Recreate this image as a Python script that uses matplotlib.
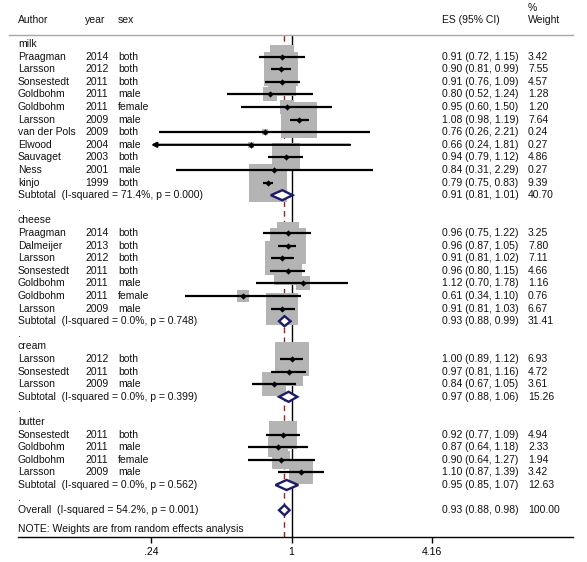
import numpy as np
import matplotlib
matplotlib.use("Agg")
import matplotlib.pyplot as plt
from matplotlib import transforms

plt.rcParams['font.family'] = ['Liberation Sans', 'DejaVu Sans']

# ---------------- data ----------------
groups = ["milk", "cheese", "cream", "butter"]

milk_author = ["Praagman", "Larsson", "Sonsestedt", "Goldbohm", "Goldbohm", "Larsson",
               "van der Pols", "Elwood", "Sauvaget", "Ness", "kinjo"]
milk_year = [2014, 2012, 2011, 2011, 2011, 2009, 2009, 2004, 2003, 2001, 1999]
milk_sex = ["both", "both", "both", "male", "female", "male", "both", "male", "both", "male", "both"]
milk_es = [0.91, 0.90, 0.91, 0.80, 0.95, 1.08, 0.76, 0.66, 0.94, 0.84, 0.79]
milk_lo = [0.72, 0.81, 0.76, 0.52, 0.60, 0.98, 0.26, 0.24, 0.79, 0.31, 0.75]
milk_hi = [1.15, 0.99, 1.09, 1.24, 1.50, 1.19, 2.21, 1.81, 1.12, 2.29, 0.83]
milk_w = [3.42, 7.55, 4.57, 1.28, 1.20, 7.64, 0.24, 0.27, 4.86, 0.27, 9.39]

cheese_author = ["Praagman", "Dalmeijer", "Larsson", "Sonsestedt", "Goldbohm", "Goldbohm", "Larsson"]
cheese_year = [2014, 2013, 2012, 2011, 2011, 2011, 2009]
cheese_sex = ["both", "both", "both", "both", "male", "female", "male"]
cheese_es = [0.96, 0.96, 0.91, 0.96, 1.12, 0.61, 0.91]
cheese_lo = [0.75, 0.87, 0.81, 0.80, 0.70, 0.34, 0.81]
cheese_hi = [1.22, 1.05, 1.02, 1.15, 1.78, 1.10, 1.03]
cheese_w = [3.25, 7.80, 7.11, 4.66, 1.16, 0.76, 6.67]

cream_author = ["Larsson", "Sonsestedt", "Larsson"]
cream_year = [2012, 2011, 2009]
cream_sex = ["both", "both", "male"]
cream_es = [1.00, 0.97, 0.84]
cream_lo = [0.89, 0.81, 0.67]
cream_hi = [1.12, 1.16, 1.05]
cream_w = [6.93, 4.72, 3.61]

butter_author = ["Sonsestedt", "Goldbohm", "Goldbohm", "Larsson"]
butter_year = [2011, 2011, 2011, 2009]
butter_sex = ["both", "male", "female", "male"]
butter_es = [0.92, 0.87, 0.90, 1.10]
butter_lo = [0.77, 0.64, 0.64, 0.87]
butter_hi = [1.09, 1.18, 1.27, 1.39]
butter_w = [4.94, 2.33, 1.94, 3.42]

sub_i2 = [71.4, 0.0, 0.0, 0.0]
sub_p = [0.000, 0.748, 0.399, 0.562]
sub_es = [0.91, 0.93, 0.97, 0.95]
sub_lo = [0.81, 0.88, 0.88, 0.85]
sub_hi = [1.01, 0.99, 1.06, 1.07]
sub_w = [40.70, 31.41, 15.26, 12.63]

overall_i2 = 54.2
overall_p = 0.001
overall_es = 0.93
overall_lo = 0.88
overall_hi = 0.98
overall_w = 100.00

tick_vals = [0.24, 1, 4.16]
tick_labels = [".24", "1", "4.16"]
note = "NOTE: Weights are from random effects analysis"

study_data = {
    "milk": (milk_author, milk_year, milk_sex, milk_es, milk_lo, milk_hi, milk_w),
    "cheese": (cheese_author, cheese_year, cheese_sex, cheese_es, cheese_lo, cheese_hi, cheese_w),
    "cream": (cream_author, cream_year, cream_sex, cream_es, cream_lo, cream_hi, cream_w),
    "butter": (butter_author, butter_year, butter_sex, butter_es, butter_lo, butter_hi, butter_w),
}

# ---------------- layout ----------------
W, H = 587, 562
fig = plt.figure(figsize=(W / 100, H / 100), dpi=100)
ax_left, ax_right, ax_top, ax_bot = 18, 573, 35, 537
ax = fig.add_axes([ax_left / W, 1 - ax_bot / H, (ax_right - ax_left) / W, (ax_bot - ax_top) / H])

px_per_ln = 98.51
x_one = 291.6
ax.set_xscale("log")
ax.set_xlim(np.exp((ax_left - x_one) / px_per_ln), np.exp((ax_right - x_one) / px_per_ln))
row0, rowh = 44.0, 12.6
ax.set_ylim((ax_bot - row0) / rowh, (ax_top - row0) / rowh)

for s in ["top", "right", "left"]:
    ax.spines[s].set_visible(False)
ax.spines["bottom"].set_linewidth(1.0)
ax.set_yticks([])
ax.set_xticks(tick_vals)
ax.set_xticklabels(tick_labels)
ax.xaxis.set_minor_locator(matplotlib.ticker.NullLocator())
ax.tick_params(axis="x", direction="out", length=4.5, width=1, labelsize=7.5, pad=2.5, colors="black")

xmin_disp, xmax_disp = 0.24, 4.16

FS = 7.5
TC = "#111111"
tx = transforms.blended_transform_factory(fig.transFigure, ax.transData)

def fx(px):
    return px / W

col_author, col_year, col_sex, col_es, col_w = 18, 85, 118, 442, 528

# headers
fig.text(fx(col_author), 1 - 20 / H, "Author", fontsize=FS, va="center", color=TC)
fig.text(fx(col_year), 1 - 20 / H, "year", fontsize=FS, va="center", color=TC)
fig.text(fx(col_sex), 1 - 20 / H, "sex", fontsize=FS, va="center", color=TC)
fig.text(fx(col_es), 1 - 20 / H, "ES (95% CI)", fontsize=FS, va="center", color=TC)
fig.text(fx(col_w), 1 - 8 / H, "%", fontsize=FS, va="center", color=TC)
fig.text(fx(col_w), 1 - 20 / H, "Weight", fontsize=FS, va="center", color=TC)
fig.add_artist(plt.Line2D([9 / W, 573 / W], [1 - 35 / H, 1 - 35 / H], color="#a8a8a8", lw=1.0))

# reference lines
ax.axvline(1, color="black", lw=1.0, zorder=1)
ax.axvline(overall_es, color="#7a2f2f", lw=1.0, ls=(0, (4, 3)), zorder=1)

box_px_per_sqrtw = 12.7
gray = "#b4b4b4"
navy = "#1c1c66"

def txt(px, row, s):
    ax.text(fx(px), row, s, transform=tx, fontsize=FS, va="center", ha="left", color=TC, clip_on=False)

def diamond(row, es, lo, hi, h=0.4):
    ax.fill([lo, es, hi, es, lo], [row, row - h, row, row + h, row], facecolor="white",
            edgecolor=navy, lw=1.7, zorder=5)

row = 0
for gi, g in enumerate(groups):
    a, y, sx, es, lo, hi, w = study_data[g]
    txt(col_author, row, g)
    row += 1
    for i in range(len(a)):
        txt(col_author, row, a[i])
        txt(col_year, row, str(y[i]))
        txt(col_sex, row, sx[i])
        txt(col_es, row, f"{es[i]:.2f} ({lo[i]:.2f}, {hi[i]:.2f})")
        txt(col_w, row, f"{w[i]:.2f}")
        side_pt = box_px_per_sqrtw * np.sqrt(w[i]) * 0.72
        ax.scatter([es[i]], [row], marker="s", s=side_pt ** 2, color=gray, linewidths=0, zorder=2)
        l, h_ = max(lo[i], xmin_disp), min(hi[i], xmax_disp)
        if lo[i] <= xmin_disp:
            ax.annotate("", xy=(l, row), xytext=(h_, row),
                        arrowprops=dict(arrowstyle="-|>", lw=1.6, color="black",
                                        mutation_scale=7, shrinkA=0, shrinkB=0), zorder=3)
        else:
            ax.plot([l, h_], [row, row], color="black", lw=1.6, solid_capstyle="butt", zorder=3)
        ax.plot([es[i]], [row], marker="D", ms=3.2, color="black", mew=0, zorder=4)
        row += 1
    txt(col_author, row, f"Subtotal  (I-squared = {sub_i2[gi]:.1f}%, p = {sub_p[gi]:.3f})")
    txt(col_es, row, f"{sub_es[gi]:.2f} ({sub_lo[gi]:.2f}, {sub_hi[gi]:.2f})")
    txt(col_w, row, f"{sub_w[gi]:.2f}")
    diamond(row, sub_es[gi], sub_lo[gi], sub_hi[gi])
    row += 1
    txt(col_author, row, ".")
    row += 1

txt(col_author, row, f"Overall  (I-squared = {overall_i2:.1f}%, p = {overall_p:.3f})")
txt(col_es, row, f"{overall_es:.2f} ({overall_lo:.2f}, {overall_hi:.2f})")
txt(col_w, row, f"{overall_w:.2f}")
diamond(row, overall_es, overall_lo, overall_hi)
row += 1.5
txt(col_author, row, note)

fig.savefig("out.png", dpi=100, facecolor="white")
